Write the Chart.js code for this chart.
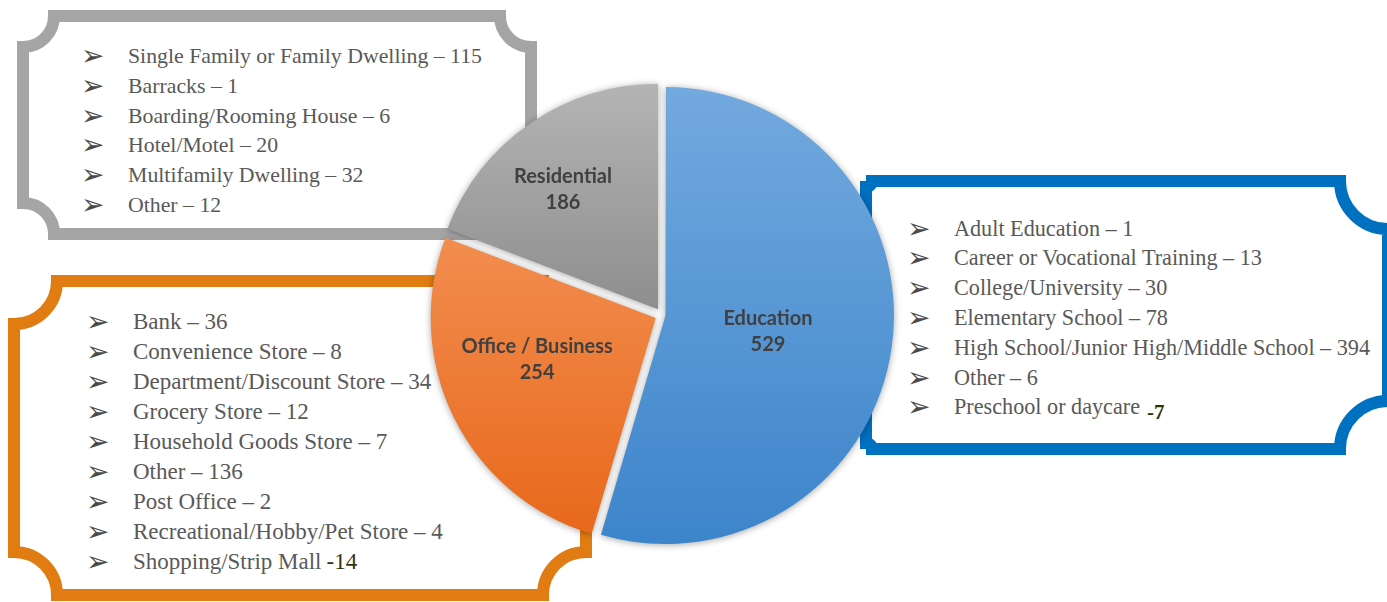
<!DOCTYPE html>
<html>
<head>
<meta charset="utf-8">
<script src="https://cdn.jsdelivr.net/npm/chart.js@4.4.0/dist/chart.umd.min.js"></script>
<style>
  html, body { margin: 0; padding: 0; background: #ffffff; }
  #wrap { position: relative; width: 1387px; height: 602px; overflow: hidden; background: #ffffff; }
  #frames { position: absolute; left: 0; top: 0; }
  #holder { position: absolute; left: 0; top: 0; width: 1387px; height: 602px; }
</style>
</head>
<body>
<div id="wrap">
  <svg id="frames" width="1387" height="602" xmlns="http://www.w3.org/2000/svg"></svg>
  <div id="holder"><canvas id="c"></canvas></div>
</div>
<script>
// ---------- data ----------
const categories = ['Education', 'Office / Business', 'Residential'];
const totals = [529, 254, 186];

const residentialTypes = ['Single Family or Family Dwelling', 'Barracks', 'Boarding/Rooming House', 'Hotel/Motel', 'Multifamily Dwelling', 'Other'];
const residentialCounts = [115, 1, 6, 20, 32, 12];

const businessTypes = ['Bank', 'Convenience Store', 'Department/Discount Store', 'Grocery Store', 'Household Goods Store', 'Other', 'Post Office', 'Recreational/Hobby/Pet Store', 'Shopping/Strip Mall'];
const businessCounts = [36, 8, 34, 12, 7, 136, 2, 4, 14];

const educationTypes = ['Adult Education', 'Career or Vocational Training', 'College/University', 'Elementary School', 'High School/Junior High/Middle School', 'Other', 'Preschool or daycare'];
const educationCounts = [1, 13, 30, 78, 394, 6, 7];

// ---------- decorative panels (layout only) ----------
const panels = [
  { types: residentialTypes, counts: residentialCounts, color: '#a5a5a5', box: [17, 10, 537, 240], radii: [31, 31, 31, 31],
    bulletX: 81, textX: 128, base: 63, step: 29.8, size: 21.8, last: null },
  { types: businessTypes, counts: businessCounts, color: '#e07c12', box: [8, 275, 592, 601], radii: [43, 43, 43, 43],
    bulletX: 86, textX: 133, base: 329, step: 30, size: 23, last: 'plain' },
  { types: educationTypes, counts: educationCounts, color: '#0070c0', box: [860, 175, 1394, 455], radii: [6, 48, 48, 6],
    bulletX: 907, textX: 954, base: 235.5, step: 29.8, size: 22.2, last: 'low' }
];

const SVGNS = 'http://www.w3.org/2000/svg';
const svg = document.getElementById('frames');

function plaquePath(X0, Y0, X1, Y1, rr, t) {
  const x0 = X0 + t / 2, y0 = Y0 + t / 2, x1 = X1 - t / 2, y1 = Y1 - t / 2;
  const [a, b, c, d] = rr;
  return `M${x0 + a},${y0} L${x1 - b},${y0} A${b},${b} 0 0 0 ${x1},${y0 + b} ` +
         `L${x1},${y1 - c} A${c},${c} 0 0 0 ${x1 - c},${y1} ` +
         `L${x0 + d},${y1} A${d},${d} 0 0 0 ${x0},${y1 - d} ` +
         `L${x0},${y0 + a} A${a},${a} 0 0 0 ${x0 + a},${y0} Z`;
}

function el(name, attrs, text) {
  const e = document.createElementNS(SVGNS, name);
  for (const k in attrs) e.setAttribute(k, attrs[k]);
  if (text !== undefined) e.textContent = text;
  return e;
}

panels.forEach(p => {
  svg.appendChild(el('path', {
    d: plaquePath(p.box[0], p.box[1], p.box[2], p.box[3], p.radii, 12),
    fill: '#ffffff', stroke: p.color, 'stroke-width': 12, 'stroke-linejoin': 'miter'
  }));
  p.types.forEach((name, i) => {
    const y = p.base + p.step * i;
    svg.appendChild(el('text', {
      x: p.bulletX, y: y + 2, 'font-family': 'DejaVu Sans', 'font-size': 28, fill: '#4a4a4a'
    }, '\u27A2'));
    const isLast = i === p.types.length - 1;
    const t = el('text', {
      x: p.textX, y: y, 'font-family': 'Liberation Serif', 'font-size': p.size, fill: '#595959'
    });
    if (isLast && p.last === 'plain') {
      t.appendChild(document.createTextNode(name));
      t.appendChild(el('tspan', { fill: '#33330a', dx: 5 }, '-' + p.counts[i]));
    } else if (isLast && p.last === 'low') {
      t.appendChild(document.createTextNode(name));
      t.appendChild(el('tspan', { fill: '#33330a', dx: 7, dy: 5, 'font-size': 21, 'font-weight': 'bold' }, '-' + p.counts[i]));
    } else {
      t.textContent = name + ' \u2013 ' + p.counts[i];
    }
    svg.appendChild(t);
  });
});

// ---------- pie ----------
const sliceColors = [
  ['#72a9de', '#3d85cb'],
  ['#f28d4f', '#e8681b'],
  ['#b4b4b4', '#8e8e8e']
];

function sliceFill(c) {
  const i = c.dataIndex || 0;
  const chart = c.chart;
  const area = chart.chartArea;
  if (!area) return sliceColors[i][0];
  const cy = (area.top + area.bottom) / 2;
  const R = 225;
  const sum = totals.reduce((a, b) => a + b, 0);
  let before = 0;
  for (let k = 0; k < i; k++) before += totals[k];
  const a0 = -Math.PI / 2 + before / sum * 2 * Math.PI;
  const a1 = a0 + totals[i] / sum * 2 * Math.PI;
  let ymin = cy, ymax = cy;
  for (let s = 0; s <= 60; s++) {
    const y = cy + Math.sin(a0 + (a1 - a0) * s / 60) * R;
    ymin = Math.min(ymin, y); ymax = Math.max(ymax, y);
  }
  const g = chart.ctx.createLinearGradient(0, ymin, 0, ymax);
  g.addColorStop(0, sliceColors[i][0]);
  g.addColorStop(1, sliceColors[i][1]);
  return g;
}

const shadowPlugin = {
  id: 'sliceShadow',
  beforeDatasetsDraw(chart) {
    const c = chart.ctx;
    c.save();
    c.shadowColor = 'rgba(0,0,0,0.35)';
    c.shadowBlur = 7;
    c.shadowOffsetX = 0;
    c.shadowOffsetY = 1;
  },
  afterDatasetsDraw(chart) { chart.ctx.restore(); }
};

const labelPlugin = {
  id: 'sliceLabels',
  afterDatasetsDraw(chart, args, opts) {
    const meta = chart.getDatasetMeta(0);
    const c = chart.ctx;
    meta.data.forEach((arc, i) => {
      const p = arc.getProps(['x', 'y', 'startAngle', 'endAngle', 'outerRadius'], true);
      const mid = (p.startAngle + p.endAngle) / 2 + opts.angleShift[i] * Math.PI / 180;
      const rr = p.outerRadius * opts.radiusFrac[i];
      const x = p.x + Math.cos(mid) * rr;
      const y = p.y + Math.sin(mid) * rr;
      c.save();
      c.font = 'bold 20px Lato';
      c.fillStyle = '#404040';
      c.textAlign = 'center';
      c.textBaseline = 'middle';
      c.fillText(chart.data.labels[i], x, y - 13);
      c.fillText(String(chart.data.datasets[0].data[i]), x, y + 13);
      c.restore();
    });
  }
};

new Chart(document.getElementById('c'), {
  type: 'pie',
  data: {
    labels: categories,
    datasets: [{
      data: totals,
      backgroundColor: sliceFill,
      borderWidth: 0,
      offset: [14, 28, 28],
      hoverOffset: 0
    }]
  },
  options: {
    responsive: true,
    maintainAspectRatio: false,
    animation: false,
    radius: 225,
    events: [],
    layout: { padding: { left: 0, right: 63, top: 28, bottom: 0 } },
    plugins: {
      legend: { display: false },
      tooltip: { enabled: false },
      sliceLabels: { radiusFrac: [0.477, 0.59, 0.712], angleShift: [0.85, 6.5, -3.65] }
    }
  },
  plugins: [shadowPlugin, labelPlugin]
});
</script>
</body>
</html>
